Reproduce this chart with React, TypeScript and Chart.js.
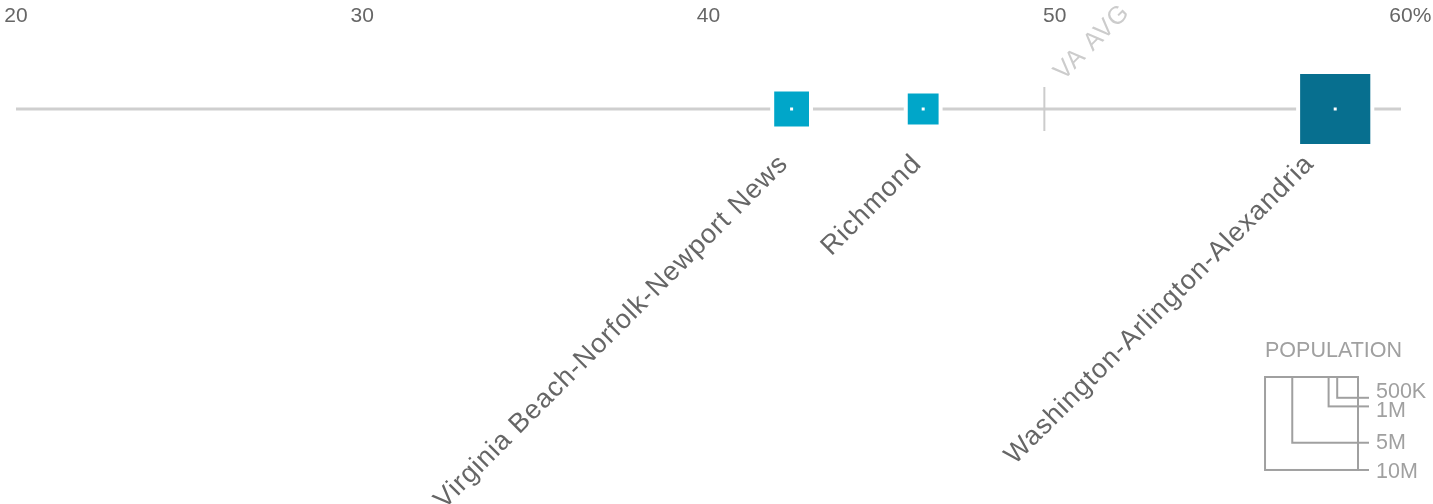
import React, { useEffect, useRef } from "react";
import { Chart, registerables } from "chart.js";

Chart.register(...registerables);

// ---- data ----
const metroNames = [
  "Virginia Beach-Norfolk-Newport News",
  "Richmond",
  "Washington-Arlington-Alexandria",
];
const metroShares = [42.4, 46.2, 58.1];
const metroPopulationsM = [1.4, 1.1, 5.7];
const metroColors = ["#00a6c9", "#00a6c9", "#076f8f"];

const stateAverage = 49.7;
const stateAverageLabel = "VA AVG";

const xTickValues = [20, 30, 40, 50, 60];
const xTickLabels = ["20", "30", "40", "50", "60"];
const xUnit = "%";

const legendTitle = "POPULATION";
const legendPopulationsM = [0.5, 1, 5, 10];
const legendLabels = ["500K", "1M", "5M", "10M"];

// ---- styling helpers ----
const PX_PER_SQRT_M = 29.4;
const sideFor = (p: number) => PX_PER_SQRT_M * Math.sqrt(p);
const FONT = '"Liberation Sans", Arial, sans-serif';
const W = 1433;
const H = 504;

const annotations = {
  id: "annotations",
  afterDatasetsDraw(chart: any) {
    const { ctx } = chart;
    const x = chart.scales.x;
    const y = chart.scales.y;
    const y0 = y.getPixelForValue(0);
    ctx.save();

    // state average tick
    const ax = x.getPixelForValue(stateAverage);
    ctx.strokeStyle = "#cccccc";
    ctx.lineWidth = 2;
    ctx.beginPath();
    ctx.moveTo(ax, y0 - 22);
    ctx.lineTo(ax, y0 + 22);
    ctx.stroke();

    ctx.save();
    ctx.translate(ax + 19, y0 - 28);
    ctx.rotate(-Math.PI / 4);
    ctx.font = `25px ${FONT}`;
    (ctx as any).letterSpacing = "1px";
    ctx.fillStyle = "#cccccc";
    ctx.textAlign = "left";
    ctx.textBaseline = "alphabetic";
    ctx.fillText(stateAverageLabel, 0, 0);
    ctx.restore();

    // metro labels
    metroNames.forEach((name, i) => {
      const px = x.getPixelForValue(metroShares[i]);
      const half = sideFor(metroPopulationsM[i]) / 2;
      ctx.save();
      ctx.translate(px - half + 15, y0 + 56);
      ctx.rotate(-Math.PI / 4);
      ctx.font = `27px ${FONT}`;
      (ctx as any).letterSpacing = "1px";
      ctx.fillStyle = "#666666";
      ctx.textAlign = "right";
      ctx.textBaseline = "alphabetic";
      ctx.fillText(name, 0, 0);
      ctx.restore();
    });

    ctx.restore();
  },
  afterDraw(chart: any) {
    const { ctx } = chart;
    const x = chart.scales.x;
    ctx.save();

    // unit sign after last tick
    ctx.font = `21px ${FONT}`;
    ctx.fillStyle = "#666666";
    ctx.textBaseline = "middle";
    ctx.textAlign = "left";
    const lastIdx = xTickValues.length - 1;
    const lp = x.getPixelForValue(xTickValues[lastIdx]);
    const lw = ctx.measureText(xTickLabels[lastIdx]).width;
    ctx.fillText(xUnit, lp + lw / 2, 16.4);

    // legend
    const right = 1358;
    const top = 377;
    ctx.font = `21.5px ${FONT}`;
    ctx.fillStyle = "#a0a0a0";
    ctx.textBaseline = "alphabetic";
    ctx.fillText(legendTitle, 1265, 357);

    ctx.strokeStyle = "#a0a0a0";
    ctx.lineWidth = 2;
    const nudges = [-6, 5, 0, 2];
    legendPopulationsM.forEach((p) => {
      const s = sideFor(p);
      ctx.strokeRect(right - s, top, s, s);
    });
    legendPopulationsM.forEach((p, i) => {
      const s = sideFor(p);
      const by = top + s;
      ctx.beginPath();
      ctx.moveTo(right, by);
      ctx.lineTo(right + 11, by);
      ctx.stroke();
      ctx.textBaseline = "middle";
      ctx.fillText(legendLabels[i], 1376, by + nudges[i]);
    });

    ctx.restore();
  },
};

export default function App() {
  const ref = useRef<HTMLCanvasElement | null>(null);

  useEffect(() => {
    const canvas = ref.current;
    if (!canvas) return;
    const points = metroShares.map((v) => ({ x: v, y: 0 }));
    const chart = new Chart(canvas, {
      type: "scatter",
      data: {
        datasets: [
          {
            type: "line",
            data: [
              { x: xTickValues[0], y: 0 },
              { x: xTickValues[xTickValues.length - 1], y: 0 },
            ],
            borderColor: "#cfcfcf",
            borderWidth: 3,
            pointRadius: 0,
            order: 3,
          } as any,
          {
            data: points,
            pointStyle: "rect",
            pointRadius: (c: any) =>
              (sideFor(metroPopulationsM[c.dataIndex] ?? 1) + 4) / Math.SQRT2,
            pointBackgroundColor: metroColors,
            pointBorderColor: "#ffffff",
            pointBorderWidth: 4,
            order: 2,
          } as any,
          {
            data: points,
            pointStyle: "rect",
            pointRadius: 3 / Math.SQRT2,
            pointBackgroundColor: "#ffffff",
            pointBorderWidth: 0,
            order: 1,
          } as any,
        ],
      },
      options: {
        responsive: false,
        animation: false,
        events: [],
        layout: { autoPadding: false, padding: { left: 16, right: 32, top: 0, bottom: 0 } },
        plugins: { legend: { display: false }, tooltip: { enabled: false } },
        scales: {
          x: {
            type: "linear",
            position: "top",
            min: xTickValues[0],
            max: xTickValues[xTickValues.length - 1],
            afterBuildTicks: (axis: any) => {
              axis.ticks = xTickValues.map((v) => ({ value: v }));
            },
            afterFit: (axis: any) => {
              axis.height = 36;
              axis.paddingLeft = 0;
              axis.paddingRight = 0;
            },
            grid: { display: false, drawTicks: false },
            border: { display: false },
            ticks: {
              padding: 7,
              maxRotation: 0,
              autoSkip: false,
              color: "#666666",
              font: { family: FONT, size: 21 },
              callback: (v: any) => {
                const i = xTickValues.indexOf(Number(v));
                return i >= 0 ? xTickLabels[i] : "";
              },
            },
          },
          y: {
            display: false,
            min: -395,
            max: 73,
          },
        },
      },
      plugins: [annotations],
    } as any);
    return () => chart.destroy();
  }, []);

  return (
    <div style={{ position: "absolute", left: 0, top: 0, width: W, height: H, background: "#fff" }}>
      <canvas ref={ref} width={W} height={H} style={{ display: "block" }} />
    </div>
  );
}
